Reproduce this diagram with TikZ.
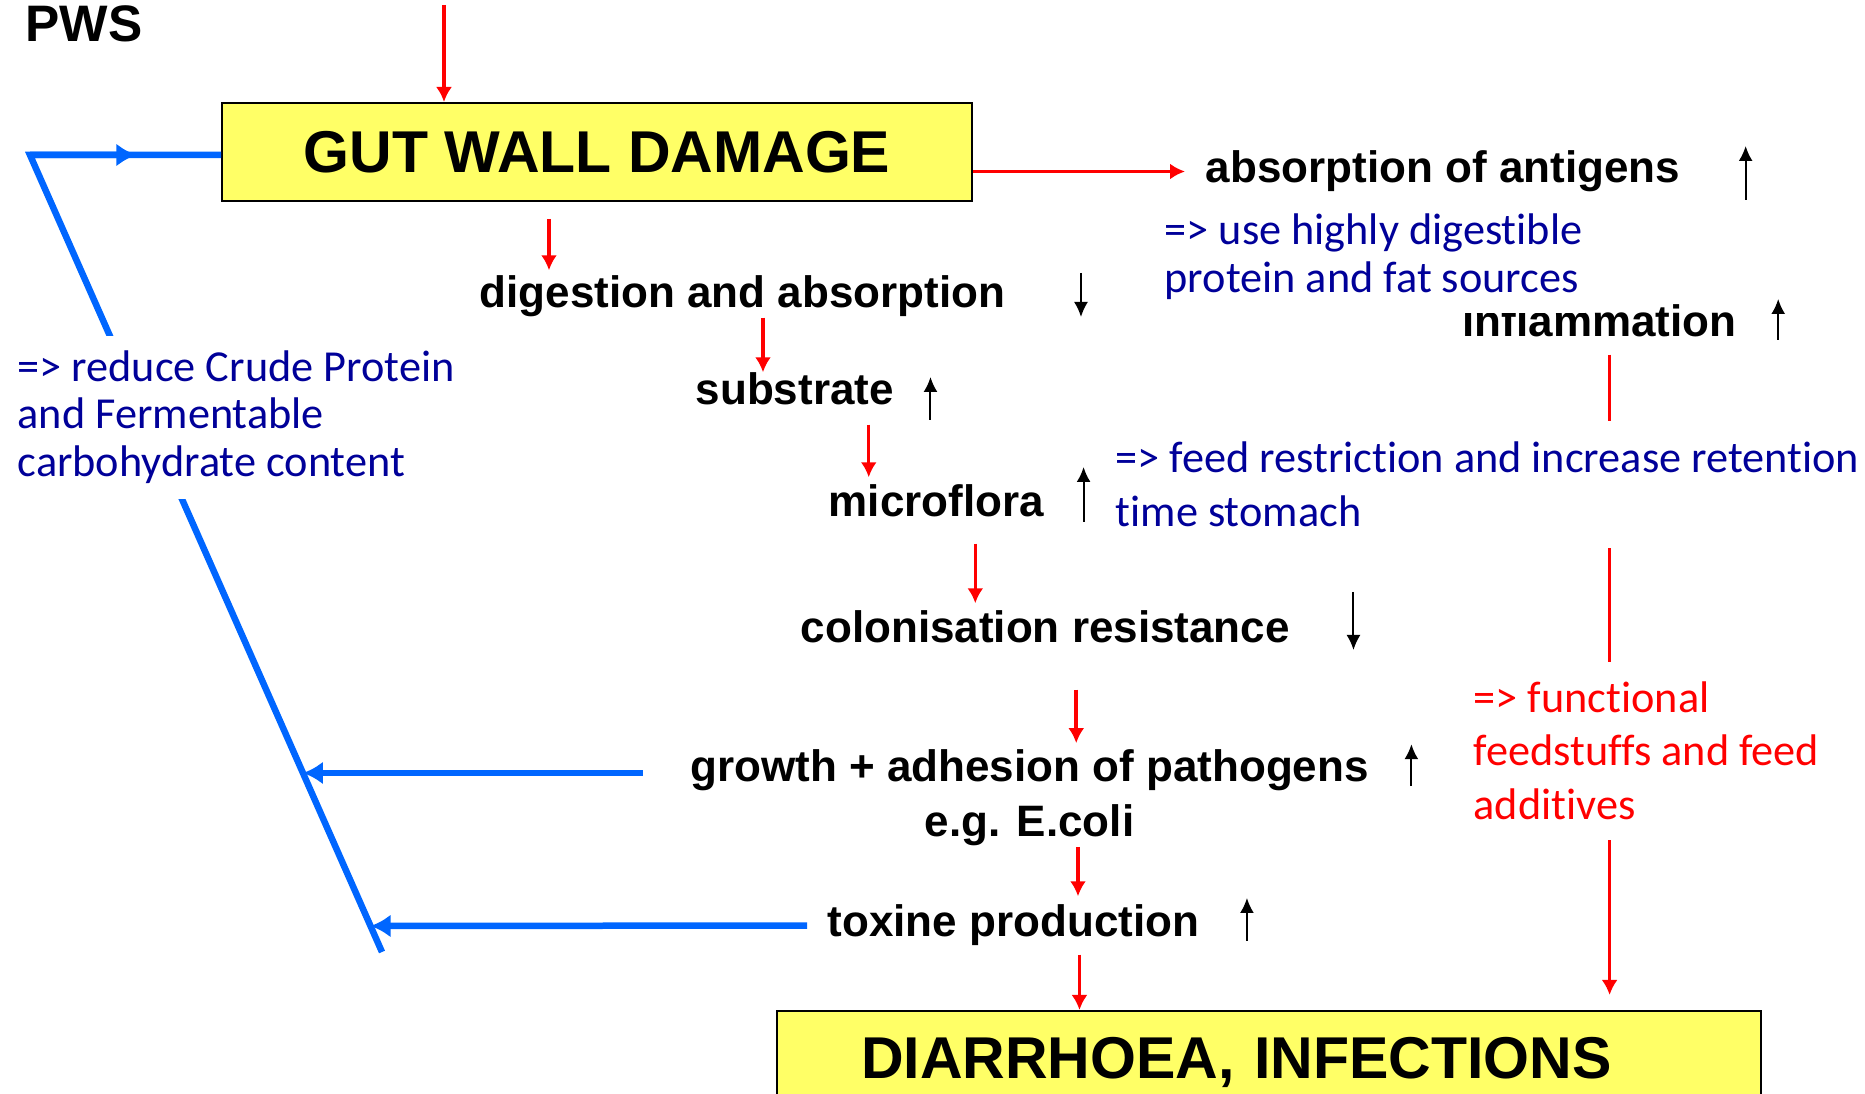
\documentclass[tikz,border=0pt]{standalone}
\usepackage{fontspec}
\usetikzlibrary{arrows.meta,calc}
\newfontfamily\labfont{Liberation Sans}
\newfontfamily\notefont{Carlito}[Ligatures={NoCommon}]
\definecolor{boxyellow}{HTML}{FFFF66}
\definecolor{flowblue}{HTML}{0066FF}
\definecolor{notenavy}{HTML}{000099}

\begin{document}
\begin{tikzpicture}[x=0.1mm,y=-0.1mm,
  txt/.style={font=\labfont\bfseries\fontsize{12.52pt}{15.65pt}\selectfont,inner sep=0pt},
  lbl/.style={txt,text height=3.2mm,text depth=0.9mm},
  bigbox/.style={draw=black,line width=0.2mm,fill=boxyellow,font=\labfont\bfseries\fontsize{16.79pt}{20pt}\selectfont,text height=4.2mm,text depth=0pt},
  note/.style={font=\notefont\fontsize{12.6pt}{#1}\selectfont,text=notenavy,fill=white,align=left,inner xsep=0.3mm,anchor=north west},
  redarr/.style={red,line width=0.35mm,-{Latex[length=1.5mm,width=1.6mm]}},
  indic/.style={black,line width=0.2mm,-{Latex[length=1.5mm,width=1.4mm]}},
  fbline/.style={flowblue,line width=0.65mm},
  fbarrow/.style={fbline,-{Latex[length=2mm,width=2.3mm]}}]
\useasboundingbox (0,0) rectangle (1865,1094);
\clip (0,0) rectangle (1865,1094);

% boxes
\node[bigbox,minimum width=75mm,minimum height=9.8mm] (gut) at (597,152) {GUT WALL DAMAGE};
\node[bigbox,anchor=north west,text width=81.6mm,align=left,inner xsep=8.4mm,inner ysep=0pt,minimum height=9.3mm] (diar) at (776,1010) {DIARRHOEA, INFECTIONS};

% chain of effects
\node[txt,font=\labfont\bfseries\fontsize{14.6pt}{17pt}\selectfont,anchor=base west] (pws) at (25,42) {PWS};
\node[lbl,anchor=base west] (ant) at (1205,183) {absorption of antigens};
\node[lbl,anchor=base west] (infl) at (1462,337) {inflammation};
\node[lbl,anchor=base west] (dig) at (479,308) {digestion and absorption};
\node[lbl,anchor=base west] (sub) at (695,405) {substrate};
\node[lbl,anchor=base west] (mic) at (828,517) {microflora};
\node[lbl,anchor=base west] (col) at (800,643) {colonisation resistance};
\node[txt,align=center] (grow) at (1029.5,798) {growth + adhesion of pathogens\\e.g. E.coli};
\node[lbl,anchor=base west] (tox) at (827,937) {toxine production};

% red arrows
\coordinate (src) at (444,5);
\draw[redarr] (src) -- (gut.north -| src);
\draw[redarr,shorten >=2mm] (gut.east |- ant.west) -- (ant.west);
\draw[redarr,shorten <=1.7mm,shorten >=0.5mm] ([xshift=-4.8mm]gut.south) -- ([xshift=-4.8mm]gut.south |- dig.north);
\draw[redarr] ([xshift=2.05mm]dig.south) -- ([xshift=2.05mm]dig.south |- sub.north);
\draw[redarr,shorten <=1mm,shorten >=0.7mm] ([xshift=7.4mm]sub.south) -- ([xshift=7.4mm]sub.south |- mic.north);
\draw[redarr,shorten <=1.7mm,shorten >=0.7mm] ([xshift=3.9mm]mic.south) -- ([xshift=3.9mm]mic.south |- col.north);
\draw[redarr,shorten <=3.7mm,shorten >=0.6mm] ([xshift=3.1mm]col.south) -- ([xshift=3.1mm]col.south |- grow.north);
\draw[redarr,shorten >=0.8mm] ([xshift=4.85mm]grow.south) -- ([xshift=4.85mm]grow.south |- tox.north);
\draw[redarr,shorten <=0.8mm] ([xshift=6.6mm]tox.south) -- ([xshift=6.6mm]tox.south |- diar.north);
\draw[redarr,shorten <=0.8mm,shorten >=1.5mm] ([xshift=1mm]infl.south) -- ([xshift=1mm]infl.south |- diar.north);

% up / down marks
\draw[indic] ($(ant.base east)+(65,17)$) -- ++(0,-54);
\draw[indic] ($(infl.base east)+(41,3)$) -- ++(0,-41);
\draw[indic] ($(dig.base east)+(75,-35)$) -- ++(0,44);
\draw[indic] ($(sub.base east)+(36,15)$) -- ++(0,-43);
\draw[indic] ($(mic.base east)+(39,5)$) -- ++(0,-55);
\draw[indic] ($(col.base east)+(63,-51)$) -- ++(0,58);
\draw[indic] ($(grow.north east)+(42,37)$) -- ++(0,-42);
\draw[indic] ($(tox.base east)+(47,4)$) -- ++(0,-43);

% blue feedback
\coordinate (corner) at (30,155);
\coordinate (foot) at (382,952);
\draw[fbline] (foot) -- (corner) -- (gut.west |- corner);
\draw[fbarrow] (corner) -- ($(corner)!0.557!(gut.west |- corner)$);
\coordinate (g1) at ($(corner)!0.7754!(foot)$);
\coordinate (t1) at ($(corner)!0.9674!(foot)$);
\draw[fbarrow,shorten <=4.7mm] (grow.west |- g1) -- (g1);
\draw[fbarrow,shorten <=2mm] (tox.west) -- (t1);

% advice notes
\node[note=13.52pt,inner ysep=1.5mm] (cpnote) at (14,335) {=> reduce Crude Protein\\and Fermentable\\carbohydrate content};
\node[note=13.66pt,inner ysep=1.3mm] (digest) at (1161,200) {=> use highly digestible\\protein and fat sources};
\node[note=15.36pt,inner ysep=2.1mm] (retent) at (1112,420) {=> feed restriction and increase retention\\time stomach};
\node[note=15.22pt,inner ysep=2mm,text=red] (addit) at (1470,661) {=> functional\\feedstuffs and feed\\additives};
\end{tikzpicture}
\end{document}
